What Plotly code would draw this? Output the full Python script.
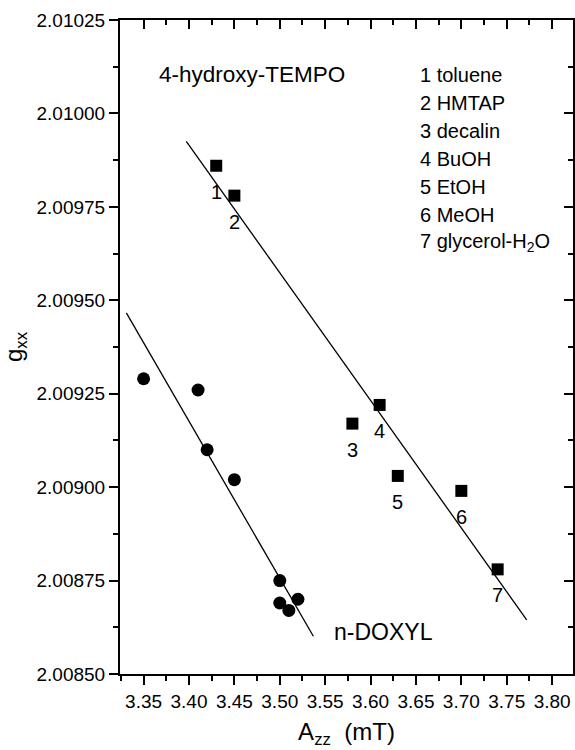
import numpy as np
import plotly.graph_objects as go

# 4-hydroxy-TEMPO in various solvents (squares)
tempo_azz = [3.43, 3.45, 3.58, 3.61, 3.63, 3.70, 3.74]
tempo_gxx = [2.00986, 2.00978, 2.00917, 2.00922, 2.00903, 2.00899, 2.00878]
tempo_labels = ["1", "2", "3", "4", "5", "6", "7"]
tempo_fit_range = [3.397, 3.772]

# n-DOXYL (circles)
doxyl_azz = [3.35, 3.41, 3.42, 3.45, 3.50, 3.50, 3.51, 3.52]
doxyl_gxx = [2.00929, 2.00926, 2.00910, 2.00902, 2.00875, 2.00869, 2.00867, 2.00870]
doxyl_fit_range = [3.331, 3.537]

solvents = ["1 toluene", "2 HMTAP", "3 decalin", "4 BuOH", "5 EtOH", "6 MeOH",
            "7 glycerol-H<sub>2</sub>O"]

x_range = [3.324, 3.823]
y_range = [2.0085, 2.01025]

FONT = "Liberation Sans, Arial, sans-serif"

fig = go.Figure()

# linear fits
for xs, ys, rng in [(tempo_azz, tempo_gxx, tempo_fit_range),
                    (doxyl_azz, doxyl_gxx, doxyl_fit_range)]:
    p = np.polyfit(xs, ys, 1)
    fx = np.array(rng)
    fig.add_trace(go.Scatter(x=fx, y=np.polyval(p, fx), mode="lines",
                             line=dict(color="black", width=1.3),
                             hoverinfo="skip", showlegend=False))

fig.add_trace(go.Scatter(x=tempo_azz, y=tempo_gxx, mode="markers",
                         marker=dict(symbol="square", size=12, color="black"),
                         showlegend=False))
fig.add_trace(go.Scatter(x=doxyl_azz, y=doxyl_gxx, mode="markers",
                         marker=dict(symbol="circle", size=13, color="black"),
                         showlegend=False))

# number labels under squares
for xv, yv, lab in zip(tempo_azz, tempo_gxx, tempo_labels):
    fig.add_annotation(x=xv, y=yv, text=lab, showarrow=False,
                       xanchor="center", yanchor="middle", yshift=-26,
                       font=dict(family=FONT, size=20, color="black"))

# dummy trace for mirrored (inward) axes
fig.add_trace(go.Scatter(x=[None], y=[None], xaxis="x2", yaxis="y2",
                         showlegend=False, hoverinfo="skip"))

# solvent list
y0 = 2.010103
step = 0.0000749
for i, s in enumerate(solvents):
    fig.add_annotation(x=3.652, y=y0 - i * step, text=s, showarrow=False,
                       xanchor="left", yanchor="middle",
                       font=dict(family=FONT, size=20, color="black"))

fig.add_annotation(x=3.3647, y=y0, text="4-hydroxy-TEMPO", showarrow=False,
                   xanchor="left", yanchor="middle",
                   font=dict(family=FONT, size=22.5, color="black"))
fig.add_annotation(x=3.5571, y=2.008613, text="n-DOXYL", showarrow=False,
                   xanchor="left", yanchor="middle",
                   font=dict(family=FONT, size=23, color="black"))

axis_common = dict(showgrid=False, zeroline=False, showline=True,
                   linecolor="black", linewidth=2, tickcolor="black",
                   tickwidth=2)

fig.update_layout(
    width=575, height=750,
    margin=dict(l=120, r=2, t=20, b=76),
    plot_bgcolor="white", paper_bgcolor="white",
    font=dict(family=FONT, color="black"),
    xaxis=dict(range=x_range, dtick=0.05, tick0=3.35, tickformat=".2f",
               ticks="outside", ticklen=9,
               minor=dict(dtick=0.025, tick0=3.35, ticks="outside", ticklen=5,
                          tickwidth=2, tickcolor="black"),
               tickfont=dict(size=19),
               title=dict(text="A<sub>zz</sub>  (mT)", font=dict(size=24),
                          standoff=12),
               **axis_common),
    yaxis=dict(range=y_range, dtick=0.00025, tick0=2.0085, tickformat=".5f",
               ticks="outside", ticklen=9,
               minor=dict(dtick=0.000125, tick0=2.0085, ticks="outside",
                          ticklen=5, tickwidth=2, tickcolor="black"),
               tickfont=dict(size=19),
               title=dict(text="g<sub>xx</sub>", font=dict(size=24),
                          standoff=12),
               **axis_common),
    xaxis2=dict(range=x_range, overlaying="x", side="top", anchor="y2",
                dtick=0.05, tick0=3.35, ticks="inside", ticklen=9,
                showticklabels=False,
                minor=dict(dtick=0.025, tick0=3.35, ticks="inside", ticklen=5,
                           tickwidth=2, tickcolor="black"),
                **axis_common),
    yaxis2=dict(range=y_range, overlaying="y", side="right", anchor="x2",
                dtick=0.00025, tick0=2.0085, ticks="inside", ticklen=9,
                showticklabels=False,
                minor=dict(dtick=0.000125, tick0=2.0085, ticks="inside",
                           ticklen=5, tickwidth=2, tickcolor="black"),
                **axis_common),
)

fig.write_html("out.html")
